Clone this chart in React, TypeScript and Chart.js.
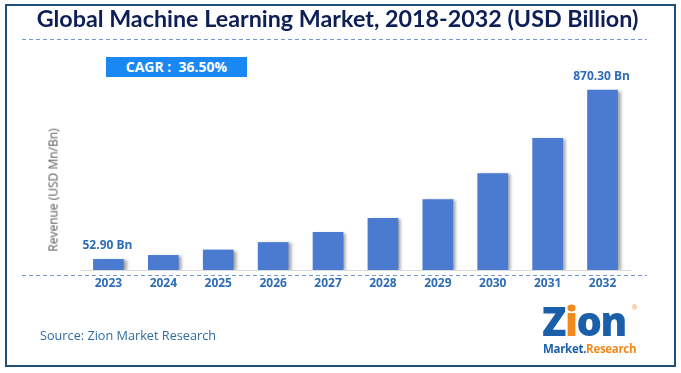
import React, { useEffect, useRef } from "react";
import { Chart, registerables } from "chart.js";

Chart.register(...registerables);

const years = ["2023", "2024", "2025", "2026", "2027", "2028", "2029", "2030", "2031", "2032"];
const revenue = [52.9, 72.2, 98.6, 134.5, 183.7, 250.7, 342.2, 467.1, 637.6, 870.3];
const valueLabels = ["52.90 Bn", "", "", "", "", "", "", "", "", "870.30 Bn"];
const titleText = "Global Machine Learning Market, 2018-2032 (USD Billion)";
const cagrText = "CAGR :  36.50%";
const yAxisTitle = "Revenue (USD Mn/Bn)";
const sourceText = "Source: Zion Market Research";

const W = 681;
const H = 373;

const decorPlugin = {
  id: "decor",
  beforeDatasetsDraw(chart: any) {
    const ctx = chart.ctx;
    ctx.save();
    ctx.shadowColor = "rgba(0,0,0,0.35)";
    ctx.shadowOffsetX = 3;
    ctx.shadowOffsetY = 1;
    ctx.shadowBlur = 3;
  },
  afterDatasetsDraw(chart: any) {
    const ctx = chart.ctx;
    ctx.restore();
    const meta = chart.getDatasetMeta(0);
    ctx.save();
    ctx.font = "bold 12px 'Open Sans', sans-serif";
    ctx.fillStyle = "#2e6db5";
    ctx.textAlign = "center";
    ctx.textBaseline = "bottom";
    meta.data.forEach((el: any, i: number) => {
      const t = valueLabels[i];
      if (t) ctx.fillText(t, el.x - 1, el.y - 7);
    });
    ctx.restore();
  },
  afterDraw(chart: any) {
    const ctx = chart.ctx;
    ctx.save();
    ctx.strokeStyle = "#7396d4";
    ctx.lineWidth = 1;
    ctx.setLineDash([4, 3]);
    ctx.beginPath();
    ctx.moveTo(22, 39.5);
    ctx.lineTo(647, 39.5);
    ctx.moveTo(22, 275.5);
    ctx.lineTo(647, 275.5);
    ctx.stroke();
    ctx.restore();
  },
};

export default function App() {
  const ref = useRef<HTMLCanvasElement | null>(null);
  useEffect(() => {
    document.body.style.margin = "0";
    const chart = new Chart(ref.current as HTMLCanvasElement, {
      type: "bar",
      data: {
        labels: years,
        datasets: [
          {
            data: revenue,
            backgroundColor: "#4b7bd1",
            borderWidth: 0,
            categoryPercentage: 1,
            barPercentage: 0.56,
          },
        ],
      },
      options: {
        animation: false,
        responsive: false,
        maintainAspectRatio: false,
        layout: { padding: { left: 81, right: 51, top: 63, bottom: 73 } },
        plugins: { legend: { display: false }, tooltip: { enabled: false }, title: { display: false } },
        scales: {
          y: { display: false, min: 0, max: 1000 },
          x: {
            grid: { display: false, drawTicks: false },
            border: { display: true, color: "#d9d9d9", width: 1 },
            ticks: {
              color: "#2e6db5",
              font: { family: "'Open Sans', sans-serif", size: 12, weight: "bold" },
              padding: 6,
            },
            afterFit: (s: any) => {
              s.height = 30;
            },
          },
        },
      },
      plugins: [decorPlugin],
    } as any);
    return () => chart.destroy();
  }, []);

  return (
    <div style={{ position: "fixed", left: 0, top: 0, width: W, height: H, background: "#fff", overflow: "hidden" }}>
      <div
        style={{
          position: "absolute",
          left: 5,
          top: 4,
          width: 667,
          height: 359,
          border: "2px solid #1f4e79",
        }}
      />
      <canvas ref={ref} width={W} height={H} style={{ position: "absolute", left: 0, top: 0, width: W, height: H }} />
      <div
        style={{
          position: "absolute",
          left: 0,
          width: W - 6,
          top: 4,
          textAlign: "center",
          fontFamily: "Lato, sans-serif",
          fontWeight: 700,
          fontSize: 23.3,
          color: "#0e1f55",
          whiteSpace: "nowrap",
        }}
      >
        {titleText}
      </div>
      <div
        style={{
          position: "absolute",
          left: 106,
          top: 57,
          width: 141,
          height: 20,
          background: "#1a88f2",
          color: "#fff",
          fontFamily: "'Open Sans', sans-serif",
          fontWeight: 700,
          fontSize: 14,
          lineHeight: "20px",
          textAlign: "center",
          whiteSpace: "pre",
        }}
      >
        {cagrText}
      </div>
      <div
        style={{
          position: "absolute",
          left: 53,
          top: 190,
          transform: "translate(-50%, -50%) rotate(-90deg)",
          fontFamily: "'Open Sans', sans-serif",
          fontSize: 12,
          color: "#595959",
          whiteSpace: "nowrap",
        }}
      >
        {yAxisTitle}
      </div>
      <div
        style={{
          position: "absolute",
          left: 40,
          top: 326,
          fontFamily: "'Open Sans', sans-serif",
          fontSize: 12.7,
          color: "#2e6da4",
          whiteSpace: "nowrap",
        }}
      >
        {sourceText}
      </div>
      <div style={{ position: "absolute", left: 541, top: 298, width: 100, height: 62 }}>
        <div
          style={{
            position: "absolute",
            left: 1,
            top: 0,
            fontFamily: "'Open Sans', sans-serif",
            fontWeight: 800,
            fontSize: 40,
            lineHeight: "46px",
            color: "#1b5faa",
            letterSpacing: -1.5,
          }}
        >
          <span style={{ color: "#1b5faa" }}>Z</span>
          <span style={{ color: "#f08a1c" }}>i</span>on
        </div>
        <div
          style={{
            position: "absolute",
            left: 2,
            top: 44,
            fontFamily: "'Open Sans', sans-serif",
            fontWeight: 700,
            fontSize: 11.5,
            lineHeight: "14px",
            letterSpacing: -0.3,
            whiteSpace: "nowrap",
          }}
        >
          <span style={{ color: "#1b5faa" }}>Market.</span>
          <span style={{ color: "#f08a1c" }}>Research</span>
        </div>
        <div style={{ position: "absolute", left: 91, top: 6, fontSize: 7, color: "#f08a1c", fontFamily: "sans-serif" }}>®</div>
      </div>
    </div>
  );
}
